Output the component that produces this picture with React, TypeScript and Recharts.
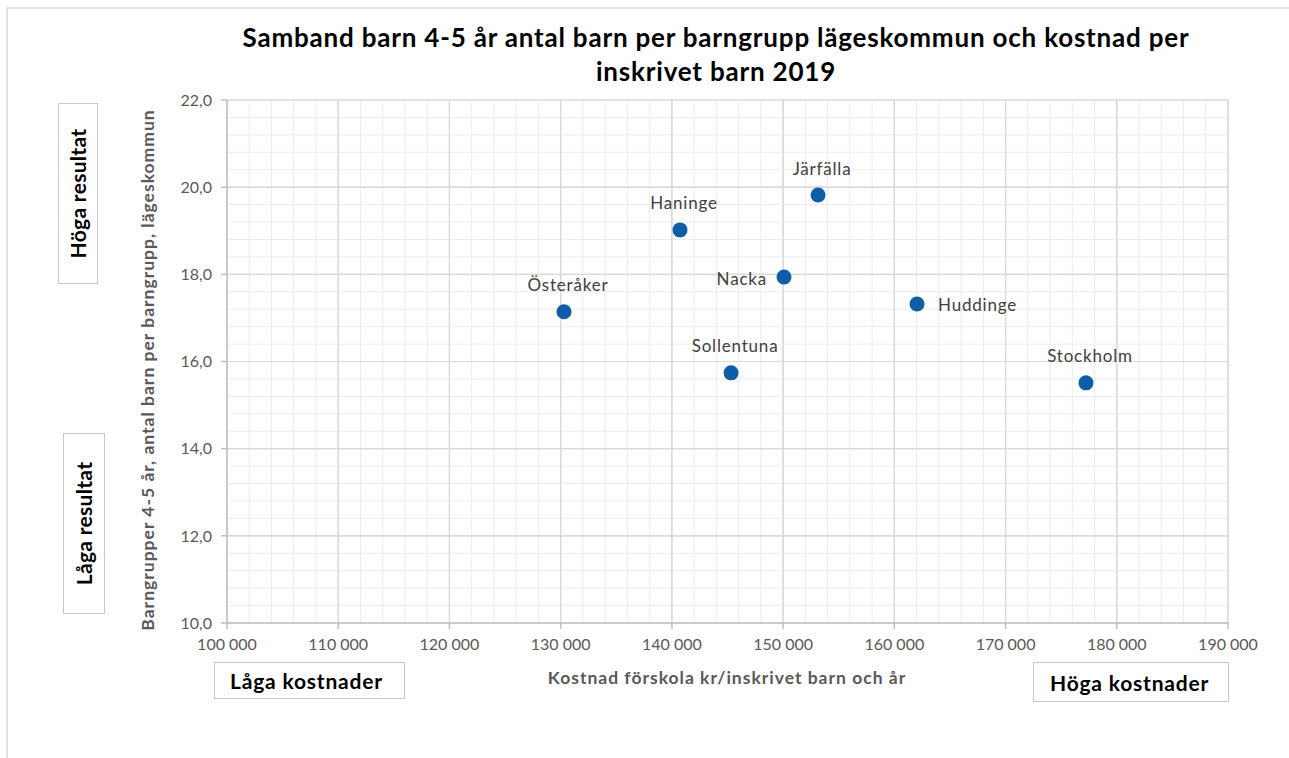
import React from "react";
import {
  ScatterChart,
  Scatter,
  XAxis,
  YAxis,
  CartesianGrid,
  ReferenceLine,
} from "recharts";

const municipalities = ["Österåker", "Haninge", "Järfälla", "Nacka", "Huddinge", "Sollentuna", "Stockholm"];
const costPerChild = [130300, 140730, 153140, 150080, 162040, 145320, 177230];
const childrenPerGroup = [17.14, 19.02, 19.82, 17.94, 17.32, 15.74, 15.51];
const labelPlacement = ["top", "top", "top", "left", "right", "top", "top"];

const xMajorTicks = [100000, 110000, 120000, 130000, 140000, 150000, 160000, 170000, 180000, 190000];
const yMajorTicks = [10, 12, 14, 16, 18, 20, 22];
const xMinorTicks = [
  102000, 104000, 106000, 108000, 112000, 114000, 116000, 118000, 122000, 124000, 126000, 128000,
  132000, 134000, 136000, 138000, 142000, 144000, 146000, 148000, 152000, 154000, 156000, 158000,
  162000, 164000, 166000, 168000, 172000, 174000, 176000, 178000, 182000, 184000, 186000, 188000,
];
const yMinorTicks = [
  10.4, 10.8, 11.2, 11.6, 12.4, 12.8, 13.2, 13.6, 14.4, 14.8, 15.2, 15.6, 16.4, 16.8, 17.2, 17.6,
  18.4, 18.8, 19.2, 19.6, 20.4, 20.8, 21.2, 21.6,
];

const titleLines = ["Samband barn 4-5 år antal barn per barngrupp lägeskommun och kostnad per", "inskrivet barn 2019"];
const xAxisTitle = "Kostnad förskola kr/inskrivet barn och år";
const yAxisTitle = "Barngrupper 4-5 år, antal barn per barngrupp, lägeskommun";

const data = municipalities.map((name, i) => ({
  name,
  x: costPerChild[i],
  y: childrenPerGroup[i],
  pos: labelPlacement[i],
}));

const FONT = "Lato, 'Open Sans', sans-serif";
const TICK_COLOR = "#595959";
const POINT_COLOR = "#0F5CA8";

const fmtX = (v: number) => String(Math.round(v)).replace(/\B(?=(\d{3})+(?!\d))/g, " ");
const fmtY = (v: number) => v.toFixed(1).replace(".", ",");

const PointShape = (props: any) => {
  const { cx, cy, payload } = props;
  let tx = cx;
  let ty = cy - 27;
  let anchor: "middle" | "start" | "end" = "middle";
  if (payload.pos === "left") {
    tx = cx - 17;
    ty = cy + 2;
    anchor = "end";
  } else if (payload.pos === "right") {
    tx = cx + 21;
    ty = cy + 1;
    anchor = "start";
  } else {
    tx = cx + 4;
  }
  return (
    <g>
      <circle cx={cx} cy={cy} r={7.5} fill={POINT_COLOR} />
      <text
        x={tx}
        y={ty}
        textAnchor={anchor}
        dominantBaseline="central"
        fontFamily={FONT}
        fontSize={17}
        letterSpacing={0.8}
        fill="#404040"
      >
        {payload.name}
      </text>
    </g>
  );
};

const boxStyle: React.CSSProperties = {
  position: "absolute",
  border: "1.5px solid #c8c8c8",
  boxSizing: "border-box",
  background: "#fff",
  fontFamily: FONT,
  fontWeight: 700,
  color: "#000",
  display: "flex",
  alignItems: "center",
  justifyContent: "center",
};

export default function App() {
  return (
    <div
      style={{
        position: "absolute",
        left: 0,
        top: 0,
        width: 1289,
        height: 758,
        overflow: "hidden",
        background: "#fff",
      }}
    >
      <div
        style={{
          position: "absolute",
          left: 6,
          top: 7,
          width: 1400,
          height: 900,
          border: "2px solid #e2e2e2",
        }}
      />
      <div
        style={{
          position: "absolute",
          left: 0,
          top: 20,
          width: 1432,
          textAlign: "center",
          fontFamily: FONT,
          fontWeight: 700,
          fontSize: 26,
          letterSpacing: 0.8,
          lineHeight: "34px",
          color: "#000",
        }}
      >
        {titleLines.map((t) => (
          <div key={t}>{t}</div>
        ))}
      </div>
      <div style={{ position: "absolute", left: 0, top: 0 }}>
        <ScatterChart width={1289} height={758} margin={{ top: 100, right: 61, bottom: 95, left: 167 }}>
          <CartesianGrid stroke="#d9d9d9" strokeWidth={1.2} />
          {xMinorTicks.map((v) => (
            <ReferenceLine key={"xm" + v} x={v} stroke="#ececec" strokeWidth={1} />
          ))}
          {yMinorTicks.map((v) => (
            <ReferenceLine key={"ym" + v} y={v} stroke="#ececec" strokeWidth={1} />
          ))}
          {xMajorTicks.slice(1).map((v) => (
            <ReferenceLine key={"xM" + v} x={v} stroke="#d9d9d9" strokeWidth={1.2} />
          ))}
          {yMajorTicks.slice(1).map((v) => (
            <ReferenceLine key={"yM" + v} y={v} stroke="#d9d9d9" strokeWidth={1.2} />
          ))}
          <XAxis
            type="number"
            dataKey="x"
            domain={[100000, 190000]}
            ticks={xMajorTicks}
            tickFormatter={fmtX}
            height={40}
            tickSize={6}
            tickMargin={10}
            stroke="#bfbfbf"
            strokeWidth={1.5}
            tick={{ fill: TICK_COLOR, fontSize: 16, fontFamily: FONT }}
            interval={0}
          />
          <YAxis
            type="number"
            dataKey="y"
            domain={[10, 22]}
            ticks={yMajorTicks}
            tickFormatter={fmtY}
            width={60}
            tickSize={6}
            tickMargin={9}
            stroke="#bfbfbf"
            strokeWidth={1.5}
            tick={{ fill: TICK_COLOR, fontSize: 16, fontFamily: FONT }}
            interval={0}
          />
          <Scatter data={data} shape={PointShape} isAnimationActive={false} />
        </ScatterChart>
      </div>
      <div
        style={{
          position: "absolute",
          left: 0,
          top: 667,
          width: 1454,
          textAlign: "center",
          fontFamily: FONT,
          fontWeight: 700,
          fontSize: 17.5,
          letterSpacing: 1,
          color: TICK_COLOR,
        }}
      >
        {xAxisTitle}
      </div>
      <div
        style={{
          position: "absolute",
          left: 147,
          top: 370,
          transform: "translate(-50%, -50%) rotate(-90deg)",
          whiteSpace: "nowrap",
          fontFamily: FONT,
          fontWeight: 700,
          fontSize: 17.5,
          letterSpacing: 1,
          color: TICK_COLOR,
        }}
      >
        {yAxisTitle}
      </div>
      <div style={{ ...boxStyle, left: 58, top: 103, width: 40, height: 181 }}>
        <div style={{ transform: "rotate(-90deg)", whiteSpace: "nowrap", fontSize: 21, letterSpacing: 0.3 }}>Höga resultat</div>
      </div>
      <div style={{ ...boxStyle, left: 63, top: 433, width: 42, height: 181 }}>
        <div style={{ transform: "rotate(-90deg)", whiteSpace: "nowrap", fontSize: 21, letterSpacing: 0.3 }}>Låga resultat</div>
      </div>
      <div style={{ ...boxStyle, left: 214, top: 662, width: 191, height: 37, justifyContent: "flex-start", paddingLeft: 15, fontSize: 21, letterSpacing: 0.8 }}>
        Låga kostnader
      </div>
      <div style={{ ...boxStyle, left: 1033, top: 662, width: 196, height: 40, justifyContent: "flex-start", paddingLeft: 16, fontSize: 21, letterSpacing: 0.8 }}>
        Höga kostnader
      </div>
    </div>
  );
}
